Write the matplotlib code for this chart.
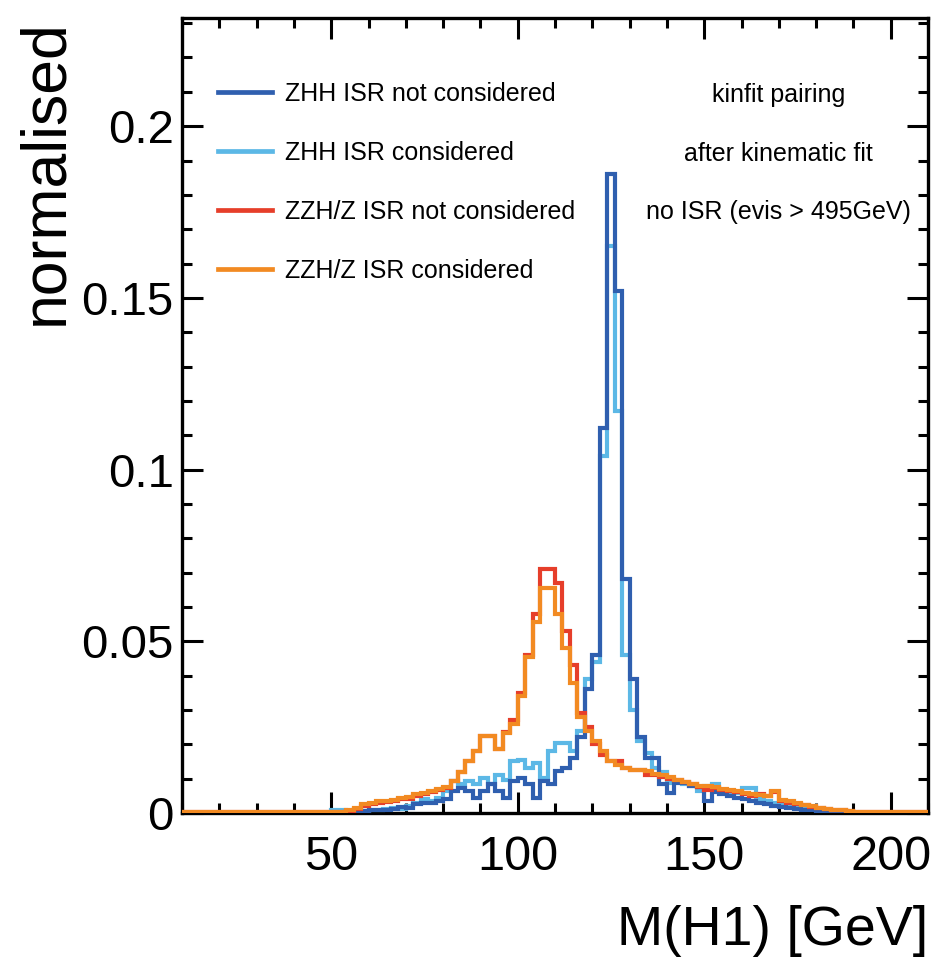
import numpy as np
import matplotlib
matplotlib.use("Agg")
import matplotlib.pyplot as plt
from matplotlib.ticker import MultipleLocator, FixedLocator, FixedFormatter

# ---------------- data ----------------
bin_edges = np.arange(10, 212, 2)  # 2 GeV bins from 10 to 210

# each row = 10 bins (20 GeV), rows start at 10, 30, 50, ... 190
zhh_not = [
    0, 0, 0, 0, 0, 0, 0, 0, 0, 0,                                                   # 10-30
    0, 0, 0, 0, 0, 0, 0, 0, 0, 0,                                                   # 30-50
    0, 0, 0, 0, 0.0006, 0.0008, 0.001, 0.0008, 0.0012, 0.0018,                      # 50-70
    0.0015, 0.0025, 0.003, 0.0028, 0.0035, 0.004, 0.0064, 0.0073, 0.0064, 0.0044,   # 70-90
    0.0064, 0.0084, 0.0064, 0.0044, 0.0093, 0.0102, 0.0084, 0.0044, 0.0093, 0.0084, # 90-110
    0.0122, 0.013, 0.016, 0.022, 0.036, 0.046, 0.112, 0.186, 0.152, 0.068,          # 110-130
    0.039, 0.022, 0.016, 0.016, 0.0084, 0.0058, 0.0087, 0.0087, 0.0079, 0.0075,     # 130-150
    0.0035, 0.006, 0.0055, 0.005, 0.0045, 0.004, 0.0035, 0.003, 0.0025, 0.002,      # 150-170
    0.0018, 0.0015, 0.0012, 0.001, 0.0008, 0.0006, 0.0004, 0.0003, 0.0002, 0,       # 170-190
    0, 0, 0, 0, 0, 0, 0, 0, 0, 0,                                                   # 190-210
]

zhh_isr = [
    0, 0, 0, 0, 0, 0, 0, 0, 0, 0,                                                   # 10-30
    0, 0, 0, 0, 0, 0, 0, 0, 0, 0,                                                   # 30-50
    0.0008, 0.0008, 0.0004, 0.0003, 0.0006, 0.001, 0.0008, 0.0012, 0.0015, 0.0012,  # 50-70
    0.002, 0.0028, 0.004, 0.0035, 0.0045, 0.0064, 0.0093, 0.0084, 0.0093, 0.0084,   # 70-90
    0.0102, 0.0084, 0.0112, 0.0095, 0.015, 0.0155, 0.013, 0.0145, 0.0102, 0.018,    # 90-110
    0.0204, 0.0204, 0.018, 0.024, 0.039, 0.044, 0.104, 0.165, 0.117, 0.046,         # 110-130
    0.030, 0.021, 0.0175, 0.013, 0.012, 0.0088, 0.009, 0.0085, 0.0078, 0.0065,      # 130-150
    0.0078, 0.0085, 0.006, 0.006, 0.0058, 0.0072, 0.0072, 0.004, 0.0035, 0.003,     # 150-170
    0.0025, 0.002, 0.0018, 0.0015, 0.0012, 0.001, 0.0008, 0.0006, 0.0004, 0.0002,   # 170-190
    0, 0, 0, 0, 0, 0, 0, 0, 0, 0,                                                   # 190-210
]

zzh_not = [
    0.0004, 0.0004, 0.0004, 0.0004, 0.0004, 0.0004, 0.0004, 0.0004, 0.0004, 0.0004, # 10-30
    0.0004, 0.0004, 0.0004, 0.0004, 0.0004, 0.0004, 0.0004, 0.0004, 0.0004, 0.0004, # 30-50
    0.0004, 0.0004, 0.0006, 0.0012, 0.002, 0.0025, 0.003, 0.0032, 0.0035, 0.004,    # 50-70
    0.0042, 0.005, 0.0055, 0.006, 0.0068, 0.0074, 0.0093, 0.012, 0.015, 0.018,      # 70-90
    0.0224, 0.0224, 0.0185, 0.0235, 0.027, 0.035, 0.046, 0.058, 0.071, 0.071,       # 90-110
    0.067, 0.053, 0.043, 0.029, 0.025, 0.020, 0.017, 0.015, 0.015, 0.013,           # 110-130
    0.0125, 0.0125, 0.011, 0.011, 0.0105, 0.010, 0.0095, 0.009, 0.0085, 0.0075,     # 130-150
    0.0068, 0.0072, 0.0068, 0.0065, 0.006, 0.0055, 0.005, 0.0055, 0.005, 0.0062,    # 150-170
    0.0035, 0.003, 0.0026, 0.0022, 0.0018, 0.0015, 0.0012, 0.001, 0.0008, 0.0006,   # 170-190
    0.0004, 0.0004, 0.0004, 0.0004, 0.0004, 0.0004, 0.0004, 0.0004, 0.0004, 0.0004, # 190-210
]

zzh_isr = [
    0.0004, 0.0004, 0.0004, 0.0004, 0.0004, 0.0004, 0.0004, 0.0004, 0.0004, 0.0004, # 10-30
    0.0004, 0.0004, 0.0004, 0.0004, 0.0004, 0.0004, 0.0004, 0.0004, 0.0004, 0.0004, # 30-50
    0.0004, 0.0004, 0.0008, 0.0015, 0.0025, 0.003, 0.0035, 0.0035, 0.0038, 0.0044,  # 50-70
    0.0046, 0.0055, 0.0058, 0.0065, 0.007, 0.0076, 0.0093, 0.0118, 0.015, 0.018,    # 70-90
    0.0224, 0.0224, 0.0187, 0.0234, 0.026, 0.034, 0.0453, 0.0555, 0.0656, 0.0656,   # 90-110
    0.058, 0.048, 0.038, 0.028, 0.024, 0.021, 0.018, 0.015, 0.014, 0.013,           # 110-130
    0.0125, 0.0125, 0.0122, 0.0115, 0.011, 0.0105, 0.0095, 0.009, 0.0085, 0.008,    # 130-150
    0.0078, 0.0075, 0.007, 0.0068, 0.0063, 0.0058, 0.0055, 0.0052, 0.005, 0.0064,   # 150-170
    0.0038, 0.0035, 0.0028, 0.0024, 0.002, 0.0016, 0.0012, 0.001, 0.0008, 0.0006,   # 170-190
    0.0004, 0.0004, 0.0004, 0.0004, 0.0004, 0.0004, 0.0004, 0.0004, 0.0004, 0.0004, # 190-210
]

labels = ["ZHH ISR not considered", "ZHH ISR considered",
          "ZZH/Z ISR not considered", "ZZH/Z ISR considered"]
colors = ["#2f5faf", "#5cb8e6", "#e63e2a", "#f28a22"]

info_lines = ["kinfit pairing", "after kinematic fit", "no ISR (evis > 495GeV)"]

x_major = [50, 100, 150, 200]
y_major = [0, 0.05, 0.1, 0.15, 0.2]
y_major_labels = ["0", "0.05", "0.1", "0.15", "0.2"]

# ---------------- plot ----------------
plt.rcParams['font.family'] = ['Liberation Sans', 'DejaVu Sans']

W, H = 933, 966
fig = plt.figure(figsize=(W/100, H/100), dpi=100)
ax = fig.add_axes([182/W, 1-813/H, (928-182)/W, (813-18)/H])

series = [zhh_not, zhh_isr, zzh_not, zzh_isr]
order = [1, 0, 2, 3]
for n, i in enumerate(order):
    ax.stairs(np.array(series[i]), bin_edges, color=colors[i], lw=3.0,
              label=labels[i], zorder=3 + n * 0.1)

ax.set_xlim(10, 210)
ax.set_ylim(0, 0.2315)

ax.xaxis.set_major_locator(FixedLocator(x_major))
ax.xaxis.set_minor_locator(MultipleLocator(10))
ax.yaxis.set_major_locator(FixedLocator(y_major))
ax.yaxis.set_major_formatter(FixedFormatter(y_major_labels))
ax.yaxis.set_minor_locator(MultipleLocator(0.01))

ax.tick_params(which='both', direction='in', top=True, right=True, width=2.2, color='black')
ax.tick_params(which='major', length=15)
ax.tick_params(which='minor', length=7.5)
ax.tick_params(axis='x', which='major', labelsize=35, pad=16)
ax.tick_params(axis='y', which='major', labelsize=34, pad=6)
for sp in ax.spines.values():
    sp.set_linewidth(2.4)
    sp.set_zorder(2.5)

ax.set_xlabel("M(H1) [GeV]", fontsize=40, ha='right', va='top')
ax.xaxis.set_label_coords(1.0, -0.116)
ax.set_ylabel("normalised", fontsize=45, ha='right', va='bottom')
ax.yaxis.set_label_coords(-0.143, 0.998)

leg_handles = [plt.Line2D([], [], color=c, lw=3.4) for c in colors]
ax.legend(leg_handles, labels, loc='upper left', bbox_to_anchor=(0.048, 0.9195),
          frameon=False, fontsize=18, handlelength=2.16, handletextpad=0.52,
          labelspacing=1.4, borderaxespad=0, borderpad=0)

for k, t in enumerate(info_lines):
    ax.text(0.80, 0.903 - k * 0.0735, t, transform=ax.transAxes, ha='center',
            va='center', fontsize=18)

fig.savefig("out.png", dpi=100)
